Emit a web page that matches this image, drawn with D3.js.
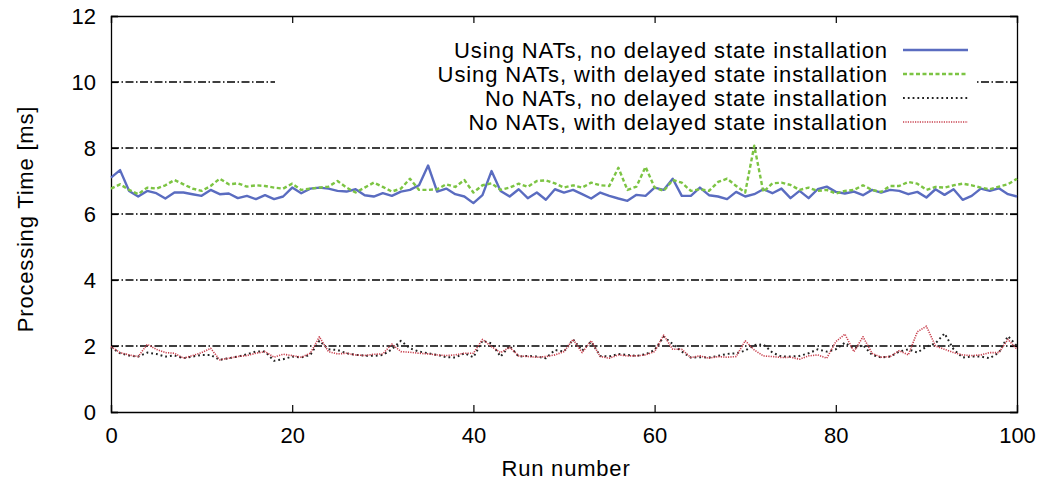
<!DOCTYPE html>
<html>
<head>
<meta charset="utf-8">
<script src="https://cdn.jsdelivr.net/npm/d3@7"></script>
<style>
  body { margin: 0; background: #fff; }
  text { font-family: "Liberation Sans", Arial, Helvetica, sans-serif; fill: #000; }
</style>
</head>
<body>
<div id="svg"></div>
<script>
// run numbers 0..100 along the x axis
var runs = d3.range(0, 101);

// one value per run
var natsNoDelay = [
    7.1, 7.33, 6.7, 6.53, 6.7, 6.63, 6.47, 6.65, 6.65, 6.6,
    6.55, 6.73, 6.6, 6.62, 6.48, 6.55, 6.45, 6.57, 6.45, 6.53,
    6.8, 6.63, 6.77, 6.8, 6.77, 6.7, 6.68, 6.75, 6.57, 6.53,
    6.63, 6.55, 6.68, 6.73, 6.87, 7.47, 6.68, 6.77, 6.6, 6.53,
    6.33, 6.57, 7.3, 6.7, 6.53, 6.75, 6.48, 6.65, 6.43, 6.75,
    6.65, 6.73, 6.6, 6.47, 6.65, 6.55, 6.47, 6.4, 6.58, 6.55,
    6.8, 6.73, 7.07, 6.55, 6.55, 6.8, 6.57, 6.53, 6.45, 6.67,
    6.53, 6.6, 6.75, 6.63, 6.77, 6.48, 6.7, 6.48, 6.75, 6.83,
    6.67, 6.62, 6.68, 6.57, 6.73, 6.65, 6.73, 6.7, 6.6, 6.67,
    6.5, 6.75, 6.58, 6.75, 6.43, 6.55, 6.77, 6.7, 6.78, 6.6,
    6.53
];
var natsDelay = [
    6.77, 6.9, 6.73, 6.6, 6.8, 6.77, 6.87, 7.03, 6.9, 6.77,
    6.7, 6.85, 7.07, 6.9, 6.93, 6.83, 6.87, 6.85, 6.8, 6.77,
    6.92, 6.73, 6.77, 6.8, 6.83, 7.0, 6.8, 6.65, 6.8, 6.95,
    6.82, 6.68, 6.77, 7.07, 6.73, 6.73, 6.75, 6.9, 6.82, 7.03,
    6.65, 6.87, 6.93, 6.73, 6.8, 6.92, 6.82, 7.0, 7.02, 6.93,
    6.8, 6.87, 6.8, 6.95, 6.87, 6.85, 7.4, 6.73, 6.83, 7.43,
    6.8, 6.7, 7.03, 6.95, 6.7, 6.75, 6.7, 6.97, 7.07, 6.85,
    6.65, 8.07, 6.67, 6.93, 6.95, 6.88, 6.73, 6.8, 6.7, 6.73,
    6.62, 6.7, 6.73, 6.87, 6.73, 6.67, 6.85, 6.85, 6.97, 6.92,
    6.73, 6.82, 6.8, 6.87, 6.92, 6.87, 6.8, 6.75, 6.83, 6.9,
    7.07
];
var noNatsNoDelay = [
    1.96, 1.78, 1.71, 1.68, 1.8, 1.76, 1.68, 1.71, 1.63, 1.68,
    1.73, 1.73, 1.58, 1.63, 1.68, 1.75, 1.83, 1.83, 1.55, 1.6,
    1.68, 1.65, 1.73, 2.16, 1.9, 1.88, 1.78, 1.73, 1.71, 1.7,
    1.73, 1.9, 2.16, 1.93, 1.83, 1.78, 1.73, 1.66, 1.65, 1.78,
    1.66, 2.16, 2.08, 1.68, 2.0, 1.68, 1.7, 1.68, 1.63, 1.88,
    1.83, 2.2, 1.86, 2.13, 1.7, 1.68, 1.76, 1.73, 1.7, 1.75,
    1.88, 2.28, 2.06, 1.83, 1.65, 1.66, 1.65, 1.7, 1.76, 1.78,
    1.86, 2.03, 2.05, 1.8, 1.68, 1.68, 1.7, 1.78, 1.9, 1.83,
    1.9, 2.1, 1.93, 2.03, 1.73, 1.65, 1.68, 1.83, 1.9, 1.8,
    1.98, 2.08, 2.38, 1.9, 1.65, 1.68, 1.68, 1.63, 1.8, 2.3,
    2.0
];
var noNatsDelay = [
    1.98, 1.8, 1.73, 1.68, 2.05, 1.9, 1.8, 1.78, 1.63, 1.71,
    1.8, 1.93, 1.58, 1.63, 1.68, 1.71, 1.78, 1.83, 1.66, 1.75,
    1.71, 1.66, 1.78, 2.28, 1.83, 1.76, 1.78, 1.73, 1.71, 1.75,
    1.76, 2.06, 1.83, 1.81, 1.78, 1.76, 1.73, 1.71, 1.73, 1.78,
    1.78, 2.2, 1.98, 1.8, 1.96, 1.7, 1.68, 1.66, 1.68, 1.73,
    1.83, 2.2, 1.8, 2.16, 1.68, 1.63, 1.73, 1.7, 1.7, 1.73,
    1.83, 2.33, 1.9, 1.9, 1.65, 1.7, 1.63, 1.68, 1.66, 1.68,
    2.16, 1.88, 1.7, 1.68, 1.65, 1.66, 1.6, 1.7, 1.73, 1.63,
    2.13, 2.36, 1.83, 2.28, 1.78, 1.66, 1.68, 1.86, 1.73, 2.43,
    2.6, 2.0, 1.9, 1.8, 1.73, 1.71, 1.73, 1.8, 1.8, 2.2,
    1.9
];

var seriesNames = [
    "Using NATs, no delayed state installation",
    "Using NATs, with delayed state installation",
    "No NATs, no delayed state installation",
    "No NATs, with delayed state installation"
];
var xTicks = [0, 20, 40, 60, 80, 100];
var yTicks = [0, 2, 4, 6, 8, 10, 12];
var gridTicks = [2, 4, 6, 8, 10];

// line styles, same order as seriesNames
var styles = [
    { color: "#5a6cc0", width: 2.4, dash: null },
    { color: "#7cc443", width: 2.4, dash: "4,2.5" },
    { color: "#222222", width: 2, dash: "1.8,3" },
    { color: "#c8404e", width: 1.6, dash: "1.2,1.2" }
];

var margin = { top: 16, right: 38, bottom: 70, left: 111 },
    width = 1055 - margin.left - margin.right,
    height = 482 - margin.top - margin.bottom;

var x = d3.scaleLinear().domain([0, 100]).range([0, width]);
var y = d3.scaleLinear().domain([0, 12]).range([height, 0]);

var svg = d3.select("#svg").append("svg")
    .attr("width", 1055)
    .attr("height", 482)
    .append("g")
    .attr("transform", "translate(" + margin.left + "," + margin.top + ")");

// dash-dot grid lines
svg.selectAll(".grid")
    .data(gridTicks)
    .enter().append("line")
    .attr("class", "grid")
    .attr("x1", 0)
    .attr("x2", width)
    .attr("y1", function(d) { return y(d); })
    .attr("y2", function(d) { return y(d); })
    .style("stroke", "#000")
    .style("stroke-width", 1.3)
    .style("stroke-dasharray", "8,2.5,1.5,2.5");

// key box hides the grid behind it
svg.append("rect")
    .attr("x", 164)
    .attr("y", 20)
    .attr("width", 700)
    .attr("height", 98)
    .style("fill", "#fff");

// axes with inward ticks, mirrored on top and right
var axisB = d3.axisBottom(x).tickValues(xTicks).tickSize(-7).tickPadding(15);
var axisT = d3.axisTop(x).tickValues(xTicks).tickSize(-7).tickFormat("");
var axisL = d3.axisLeft(y).tickValues(yTicks).tickSize(-7).tickPadding(15);
var axisR = d3.axisRight(y).tickValues(yTicks).tickSize(-7).tickFormat("");

function styleAxis(g) {
    g.select(".domain").style("stroke", "#000").style("stroke-width", 1.3);
    g.selectAll(".tick line").style("stroke", "#000").style("stroke-width", 1.2);
    g.selectAll("text").style("font-size", "22px")
        .style("font-family", "'Liberation Sans', Arial, sans-serif");
}

svg.append("g").attr("transform", "translate(0," + height + ")").call(axisB).call(styleAxis);
svg.append("g").call(axisT).call(styleAxis);
svg.append("g").call(axisL).call(styleAxis);
svg.append("g").attr("transform", "translate(" + width + ",0)").call(axisR).call(styleAxis);

// the four series
var allSeries = [natsNoDelay, natsDelay, noNatsNoDelay, noNatsDelay];
var line = d3.line()
    .x(function(d, i) { return x(runs[i]); })
    .y(function(d) { return y(d); });

svg.selectAll(".series")
    .data(allSeries)
    .enter().append("path")
    .attr("class", "series")
    .attr("d", line)
    .style("fill", "none")
    .style("stroke", function(d, i) { return styles[i].color; })
    .style("stroke-width", function(d, i) { return styles[i].width; })
    .style("stroke-dasharray", function(d, i) { return styles[i].dash; })
    .style("stroke-linejoin", "round");

// key
var key = svg.selectAll(".key")
    .data(seriesNames)
    .enter().append("g")
    .attr("class", "key")
    .attr("transform", function(d, i) { return "translate(0," + (34 + i * 24) + ")"; });

key.append("text")
    .attr("x", 777)
    .attr("dy", ".35em")
    .attr("text-anchor", "end")
    .style("font-size", "22px")
    .style("letter-spacing", "0.9px")
    .text(function(d) { return d; });

key.append("line")
    .attr("x1", 792)
    .attr("x2", 857)
    .style("stroke", function(d, i) { return styles[i].color; })
    .style("stroke-width", function(d, i) { return styles[i].width; })
    .style("stroke-dasharray", function(d, i) { return styles[i].dash; });

// axis titles
svg.append("text")
    .attr("x", width / 2 + 2)
    .attr("y", height + 64)
    .attr("text-anchor", "middle")
    .style("font-size", "22px")
    .style("letter-spacing", "0.8px")
    .text("Run number");

svg.append("text")
    .attr("transform", "translate(-78," + (height / 2 + 5) + ") rotate(-90)")
    .attr("text-anchor", "middle")
    .style("font-size", "22px")
    .style("letter-spacing", "0.8px")
    .text("Processing Time [ms]");
</script>
</body>
</html>
